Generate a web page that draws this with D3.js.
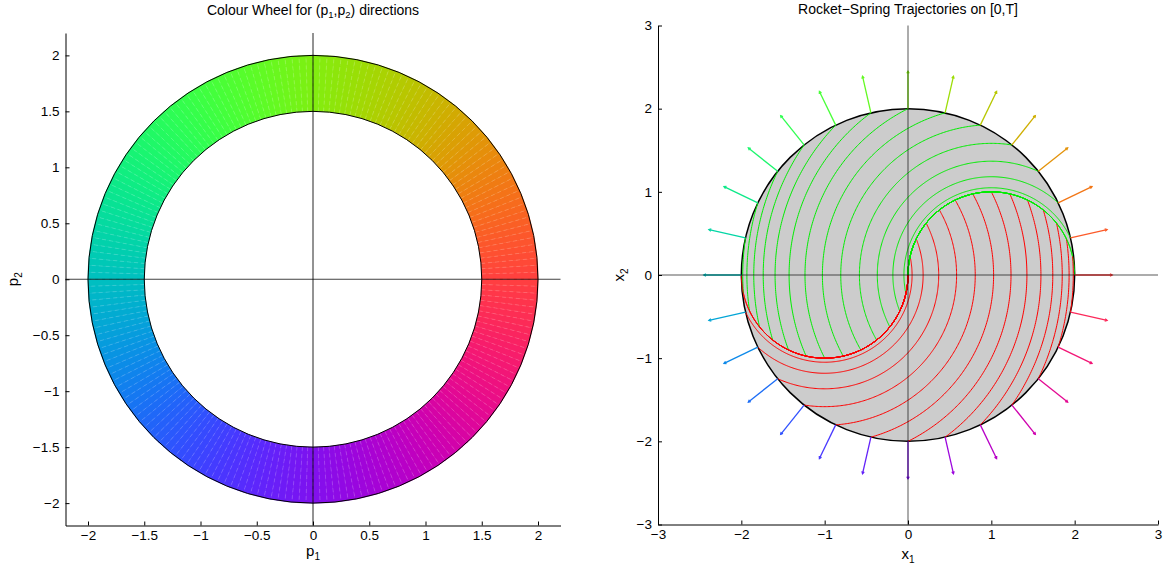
<!DOCTYPE html>
<html lang="en">
<head>
    <meta charset="UTF-8">
    <title>Rocket-Spring</title>
    <style>
      body { margin: 0; background: #fff; }
      svg { font-family: "Liberation Sans", Arial, sans-serif; }
      .tick text { font-size: 13.5px; fill: #000; }
      .tick line, .domain { stroke: #000; }
    </style>
</head>
<body>
    <svg></svg>
    <script src="https://d3js.org/d3.v7.min.js"></script>
    <script>
    // values
    const wheelInner = 1.5;
    const wheelOuter = 2;
    const wheelSegments = 200;
    const diskRadius = 2;
    const T = Math.PI;
    const arrowLength = 0.45;
    // end directions of the plotted trajectories (degrees)
    const dirDeg = [0, 12.86, 25.71, 38.57, 51.43, 64.29, 77.14, 90, 102.86, 115.71,
      128.57, 141.43, 154.29, 167.14, 180, 192.86, 205.71, 218.57, 231.43, 244.29,
      257.14, 270, 282.86, 295.71, 308.57, 321.43, 334.29, 347.14];
    const leftTicks = [-2, -1.5, -1, -0.5, 0, 0.5, 1, 1.5, 2];
    const rightTicks = [-3, -2, -1, 0, 1, 2, 3];

    const svg = d3.select('svg')
      .attr('width', 1164)
      .attr('height', 569);

    const fmt = d3.format('~g');

    // colour for a direction angle
    function dirColour(th) {
      const c = v => Math.round(255 * (1 + Math.cos(v)) / 2);
      return d3.rgb(c(th), c(th - 2 * Math.PI / 3), c(th - 4 * Math.PI / 3));
    }

    // ---------- left: colour wheel ----------
    const xL = d3.scaleLinear().domain([-2.2, 2.2]).range([65.5, 560.5]);
    const yL = d3.scaleLinear().domain([-2.2, 2.2]).range([525.5, 33]);

    const gL = svg.append('g');
    const line = d3.line();

    const segs = d3.range(wheelSegments).map(i => {
      const a0 = 2 * Math.PI * i / wheelSegments;
      const a1 = 2 * Math.PI * (i + 1) / wheelSegments;
      return { a0, a1, mid: (a0 + a1) / 2 };
    });

    function segPath(d) {
      const pts = [];
      const n = 3;
      for (let j = 0; j <= n; j++) {
        const a = d.a0 + (d.a1 - d.a0) * j / n;
        pts.push([xL(wheelOuter * Math.cos(a)), yL(wheelOuter * Math.sin(a))]);
      }
      for (let j = n; j >= 0; j--) {
        const a = d.a0 + (d.a1 - d.a0) * j / n;
        pts.push([xL(wheelInner * Math.cos(a)), yL(wheelInner * Math.sin(a))]);
      }
      return line(pts) + 'Z';
    }

    gL.selectAll('.seg')
      .data(segs)
      .enter()
      .append('path')
      .attr('class', 'seg')
      .attr('d', segPath)
      .attr('fill', d => dirColour(d.mid))
      .attr('stroke', d => dirColour(d.mid))
      .attr('stroke-width', 0.6);

    // faint seams between patches
    gL.selectAll('.seam')
      .data(segs)
      .enter()
      .append('line')
      .attr('x1', d => xL(wheelInner * Math.cos(d.a0)))
      .attr('y1', d => yL(wheelInner * Math.sin(d.a0)))
      .attr('x2', d => xL(wheelOuter * Math.cos(d.a0)))
      .attr('y2', d => yL(wheelOuter * Math.sin(d.a0)))
      .attr('stroke', '#fff')
      .attr('stroke-opacity', 0.3)
      .attr('stroke-width', 0.6)
      .attr('stroke-dasharray', '4,3');

    [wheelInner, wheelOuter].forEach(r => {
      gL.append('ellipse')
        .attr('cx', xL(0)).attr('cy', yL(0))
        .attr('rx', xL(r) - xL(0)).attr('ry', yL(0) - yL(r))
        .attr('fill', 'none').attr('stroke', '#000').attr('stroke-width', 1);
    });

    gL.append('line')
      .attr('x1', xL(-2.2)).attr('x2', xL(2.2))
      .attr('y1', yL(0)).attr('y2', yL(0))
      .attr('stroke', '#000').attr('stroke-opacity', 0.75);
    gL.append('line')
      .attr('x1', xL(0)).attr('x2', xL(0))
      .attr('y1', yL(-2.2)).attr('y2', yL(2.2))
      .attr('stroke', '#000').attr('stroke-opacity', 0.85);

    svg.append('g')
      .attr('transform', `translate(0,${yL(-2.2)})`)
      .call(d3.axisBottom(xL).tickValues(leftTicks).tickFormat(fmt)
        .tickSizeInner(-4).tickSizeOuter(0).tickPadding(5));
    svg.append('g')
      .attr('transform', `translate(${xL(-2.2)},0)`)
      .call(d3.axisLeft(yL).tickValues(leftTicks).tickFormat(fmt)
        .tickSizeInner(-4).tickSizeOuter(0).tickPadding(6));

    // ---------- right: trajectories ----------
    const xR = d3.scaleLinear().domain([-3, 3]).range([658, 1158]);
    const yR = d3.scaleLinear().domain([-3, 3]).range([524.5, 25.5]);
    const gR = svg.append('g');

    gR.append('ellipse')
      .attr('cx', xR(0)).attr('cy', yR(0))
      .attr('rx', xR(diskRadius) - xR(0)).attr('ry', yR(0) - yR(diskRadius))
      .attr('fill', '#cccccc').attr('stroke', '#000').attr('stroke-width', 1.5);

    // bang-bang pieces for an end direction phi
    function pieces(deg) {
      const phi = deg * Math.PI / 180;
      if (deg === 0) return [{ u: 1, t: T }];
      if (deg === 180) return [{ u: -1, t: T }];
      if (phi < Math.PI) return [{ u: -1, t: phi }, { u: 1, t: T - phi }];
      return [{ u: 1, t: phi - Math.PI }, { u: -1, t: 2 * Math.PI - phi }];
    }

    const arcs = [];
    dirDeg.forEach(deg => {
      let x = 0, y = 0;
      pieces(deg).forEach(p => {
        const zx = x - p.u, zy = y;
        const n = Math.max(2, Math.ceil(p.t / 0.01));
        const pts = d3.range(n + 1).map(j => {
          const t = p.t * j / n;
          return [p.u + zx * Math.cos(t) + zy * Math.sin(t), -zx * Math.sin(t) + zy * Math.cos(t)];
        });
        x = pts[n][0]; y = pts[n][1];
        arcs.push({ u: p.u, pts });
      });
    });

    const lineR = d3.line().x(d => xR(d[0])).y(d => yR(d[1]));
    gR.selectAll('.traj')
      .data(arcs)
      .enter()
      .append('path')
      .attr('class', 'traj')
      .attr('d', d => lineR(d.pts))
      .attr('fill', 'none')
      .attr('stroke', d => d.u > 0 ? '#00ee00' : '#ff0000')
      .attr('stroke-width', 1);

    // normal arrows on the boundary
    const arrows = dirDeg.map(deg => {
      const a = deg * Math.PI / 180;
      return {
        a,
        x0: xR(diskRadius * Math.cos(a)), y0: yR(diskRadius * Math.sin(a)),
        x1: xR((diskRadius + arrowLength) * Math.cos(a)), y1: yR((diskRadius + arrowLength) * Math.sin(a))
      };
    });
    const ga = gR.selectAll('.arrow')
      .data(arrows)
      .enter()
      .append('g')
      .attr('stroke', d => dirColour(d.a))
      .attr('stroke-width', 1.3)
      .attr('fill', 'none');
    ga.append('line')
      .attr('x1', d => d.x0).attr('y1', d => d.y0)
      .attr('x2', d => d.x1).attr('y2', d => d.y1);
    ga.append('path')
      .attr('d', d => {
        const ang = Math.atan2(d.y1 - d.y0, d.x1 - d.x0);
        const h = 2.5, s = 0.5;
        const p1 = [d.x1 - h * Math.cos(ang - s), d.y1 - h * Math.sin(ang - s)];
        const p2 = [d.x1 - h * Math.cos(ang + s), d.y1 - h * Math.sin(ang + s)];
        return `M${p1}L${d.x1},${d.y1}L${p2}`;
      });

    gR.append('line')
      .attr('x1', xR(-3)).attr('x2', xR(3))
      .attr('y1', yR(0)).attr('y2', yR(0))
      .attr('stroke', '#000').attr('stroke-opacity', 0.65);
    gR.append('line')
      .attr('x1', xR(0)).attr('x2', xR(0))
      .attr('y1', yR(-3)).attr('y2', yR(3))
      .attr('stroke', '#000').attr('stroke-opacity', 0.65);

    svg.append('g')
      .attr('transform', `translate(0,${yR(-3)})`)
      .call(d3.axisBottom(xR).tickValues(rightTicks).tickFormat(fmt)
        .tickSizeInner(-4).tickSizeOuter(0).tickPadding(5));
    svg.append('g')
      .attr('transform', `translate(${xR(-3)},0)`)
      .call(d3.axisLeft(yR).tickValues(rightTicks).tickFormat(fmt)
        .tickSizeInner(-4).tickSizeOuter(0).tickPadding(6));

    // ---------- text ----------
    function label(x, y, main, sub, rotate) {
      const t = svg.append('text')
        .attr('font-size', 15)
        .attr('text-anchor', 'middle')
        .attr('transform', `translate(${x},${y})` + (rotate ? ' rotate(-90)' : ''));
      t.append('tspan').text(main);
      t.append('tspan').attr('font-size', 10).attr('dy', 4).text(sub);
    }
    label(xL(0), 556, 'p', '1');
    label(18, yL(0), 'p', '2', true);
    label(xR(0), 559, 'x', '1');
    label(624, yR(0), 'x', '2', true);

    const t1 = svg.append('text')
      .attr('x', xL(0)).attr('y', 15)
      .attr('font-size', 14).attr('text-anchor', 'middle');
    t1.append('tspan').text('Colour Wheel for (p');
    t1.append('tspan').attr('font-size', 9.5).attr('dy', 3).text('1');
    t1.append('tspan').attr('dy', -3).text(',p');
    t1.append('tspan').attr('font-size', 9.5).attr('dy', 3).text('2');
    t1.append('tspan').attr('dy', -3).text(') directions');

    svg.append('text')
      .attr('x', xR(0)).attr('y', 14)
      .attr('font-size', 14).attr('text-anchor', 'middle')
      .text('Rocket\u2212Spring Trajectories on [0,T]');
    </script>
</body>
</html>
